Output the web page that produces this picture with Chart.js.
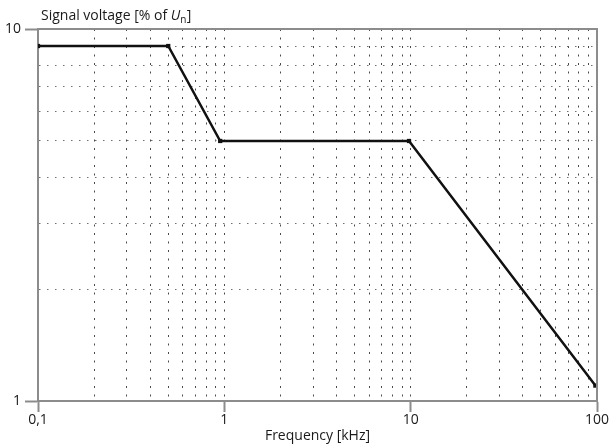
<!DOCTYPE html>
<html lang="en">
<head>
  <meta charset="UTF-8">
  <title>Signal voltage vs frequency</title>
  <script src="https://cdn.jsdelivr.net/npm/chart.js"></script>
  <style>
    html, body { margin: 0; padding: 0; background: #fff; }
    #chart { display: block; }
  </style>
</head>
<body>
  <canvas id="chart" width="611" height="444"></canvas>

  <script>
    // curve
    const freqKHz = [0.1, 0.5, 0.95, 9.8, 98];
    const voltagePct = [9, 9, 5, 5, 1.1];

    // log grid positions
    const xTicks = [0.1, 0.2, 0.3, 0.4, 0.5, 0.6, 0.7, 0.8, 0.9,
                    1, 2, 3, 4, 5, 6, 7, 8, 9,
                    10, 20, 30, 40, 50, 60, 70, 80, 90, 100];
    const xMajor = [0.1, 1, 10, 100];
    const xMajorLabels = ['0,1', '1', '10', '100'];
    const yTicks = [1, 2, 3, 4, 5, 6, 7, 8, 9, 10];
    const yMajor = [1, 10];
    const yMajorLabels = ['1', '10'];

    const FONT = '"Open Sans", "Noto Sans", sans-serif';
    const frameColor = '#8c8c8c';

    function isMajor(list, v) {
      return list.some(m => Math.abs(m - v) < 1e-9);
    }

    // top/right frame and y-axis title with italic U and subscript n
    const extras = {
      id: 'extras',
      afterDraw(chart) {
        const { ctx, chartArea: a } = chart;
        ctx.save();
        ctx.strokeStyle = frameColor;
        ctx.lineWidth = 2;
        ctx.beginPath();
        ctx.moveTo(a.left, a.top);
        ctx.lineTo(a.right, a.top);
        ctx.lineTo(a.right, a.bottom);
        ctx.stroke();

        ctx.fillStyle = '#1a1a1a';
        ctx.textBaseline = 'alphabetic';
        let x = 41, y = 20;
        ctx.font = '14px ' + FONT;
        const part1 = 'Signal voltage [% of ';
        ctx.fillText(part1, x, y);
        x += ctx.measureText(part1).width;
        ctx.font = 'italic 14px ' + FONT;
        ctx.fillText('U', x, y);
        x += ctx.measureText('U').width;
        ctx.font = '10px ' + FONT;
        ctx.fillText('n', x, y + 3);
        x += ctx.measureText('n').width + 0.5;
        ctx.font = '14px ' + FONT;
        ctx.fillText(']', x, y);
        ctx.restore();
      }
    };

    new Chart(document.getElementById('chart'), {
      type: 'scatter',
      data: {
        datasets: [{
          data: freqKHz.map((f, i) => ({ x: f, y: voltagePct[i] })),
          showLine: true,
          borderColor: '#111',
          backgroundColor: '#111',
          borderWidth: 2.5,
          pointStyle: 'rect',
          pointRadius: 3,
          pointBorderWidth: 0,
          tension: 0
        }]
      },
      options: {
        responsive: false,
        animation: false,
        devicePixelRatio: 1,
        layout: { padding: { top: 29, right: 14, left: 0, bottom: 0 } },
        plugins: { legend: { display: false }, tooltip: { enabled: false } },
        scales: {
          x: {
            type: 'logarithmic',
            min: 0.1,
            max: 100,
            afterBuildTicks: s => { s.ticks = xTicks.map(v => ({ value: v })); },
            afterFit: s => { s.height = 43; },
            ticks: {
              autoSkip: false,
              maxRotation: 0,
              padding: 0,
              color: '#1a1a1a',
              font: { family: FONT, size: 14 },
              callback: v => {
                const i = xMajor.findIndex(m => Math.abs(m - v) < 1e-9);
                return i >= 0 ? xMajorLabels[i] : '';
              }
            },
            grid: {
              color: '#4a4a4a',
              lineWidth: 1,
              tickLength: 11,
              tickWidth: 2,
              tickColor: c => (c.tick && isMajor(xMajor, c.tick.value)) ? frameColor : 'rgba(0,0,0,0)'
            },
            border: { display: true, color: frameColor, width: 2, dash: [2, 6.5] },
            title: {
              display: true,
              text: 'Frequency [kHz]',
              color: '#1a1a1a',
              font: { family: FONT, size: 14 },
              padding: { top: 0, bottom: 0 }
            }
          },
          y: {
            type: 'logarithmic',
            min: 1,
            max: 10,
            afterBuildTicks: s => { s.ticks = yTicks.map(v => ({ value: v })); },
            afterFit: s => { s.width = 38; },
            ticks: {
              autoSkip: false,
              padding: 4,
              color: '#1a1a1a',
              font: { family: FONT, size: 14 },
              callback: v => {
                const i = yMajor.findIndex(m => Math.abs(m - v) < 1e-9);
                return i >= 0 ? yMajorLabels[i] : '';
              }
            },
            grid: {
              color: '#6e6e6e',
              lineWidth: 1,
              tickLength: 13,
              tickWidth: 2,
              tickColor: c => (c.tick && isMajor(yMajor, c.tick.value)) ? frameColor : 'rgba(0,0,0,0)'
            },
            border: { display: true, color: frameColor, width: 2, dash: [1.5, 6.5] }
          }
        }
      },
      plugins: [extras]
    });
  </script>
</body>
</html>
